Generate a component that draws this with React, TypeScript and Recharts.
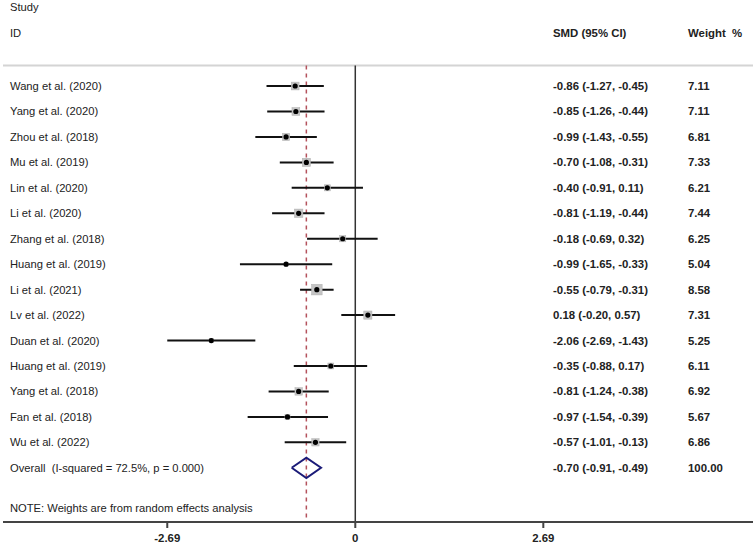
import React from 'react';
import {
  ComposedChart, Scatter, ErrorBar,
  XAxis, YAxis, ReferenceLine
} from 'recharts';

const STUDIES = [
  'Wang et al. (2020)', 'Yang et al. (2020)', 'Zhou et al. (2018)', 'Mu et al. (2019)',
  'Lin et al. (2020)', 'Li et al. (2020)', 'Zhang et al. (2018)', 'Huang et al. (2019)',
  'Li et al. (2021)', 'Lv et al. (2022)', 'Duan et al. (2020)', 'Huang et al. (2019)',
  'Yang et al. (2018)', 'Fan et al. (2018)', 'Wu et al. (2022)'
];
const SMD = [-0.86, -0.85, -0.99, -0.70, -0.40, -0.81, -0.18, -0.99, -0.55, 0.18, -2.06, -0.35, -0.81, -0.97, -0.57];
const CI_LOW = [-1.27, -1.26, -1.43, -1.08, -0.91, -1.19, -0.69, -1.65, -0.79, -0.20, -2.69, -0.88, -1.24, -1.54, -1.01];
const CI_HIGH = [-0.45, -0.44, -0.55, -0.31, 0.11, -0.44, 0.32, -0.33, -0.31, 0.57, -1.43, 0.17, -0.38, -0.39, -0.13];
const WEIGHTS = [7.11, 7.11, 6.81, 7.33, 6.21, 7.44, 6.25, 5.04, 8.58, 7.31, 5.25, 6.11, 6.92, 5.67, 6.86];

const OVERALL_LABEL = 'Overall\u00a0 (I-squared = 72.5%, p = 0.000)';
const OVERALL_CI = [-0.91, -0.70, -0.49]; // low, estimate, high
const OVERALL_WEIGHT = 100;

const X_TICKS = [-2.69, 0, 2.69];
const NOTE = 'NOTE: Weights are from random effects analysis';

// row positions (one unit per study row)
const OVERALL_ROW = STUDIES.length;
const RULE_ROW = -0.81;
const Y_DOMAIN = [-3.38, 17.13];

const FONT = '"Liberation Sans", Arial, sans-serif';
const fmt = (v: number) => v.toFixed(2);

const studyData = STUDIES.map((name, i) => ({
  name,
  x: SMD[i],
  y: i,
  w: WEIGHTS[i],
  err: [SMD[i] - CI_LOW[i], CI_HIGH[i] - SMD[i]]
}));

const diamondData = [
  { x: OVERALL_CI[0], y: OVERALL_ROW },
  { x: OVERALL_CI[1], y: OVERALL_ROW - 0.4 },
  { x: OVERALL_CI[2], y: OVERALL_ROW },
  { x: OVERALL_CI[1], y: OVERALL_ROW + 0.4 },
  { x: OVERALL_CI[0], y: OVERALL_ROW }
];

// text rows: label, estimate column, weight column (x is only an anchor, columns are fixed)
const textRows = [
  { x: 0, y: -3.1, left: 'Study', mid: '', right: '' },
  { x: 0, y: -2.08, left: 'ID', mid: 'SMD (95% CI)', right: 'Weight\u00a0 %' },
  ...STUDIES.map((name, i) => ({
    x: 0,
    y: i,
    left: name,
    mid: `${fmt(SMD[i])} (${fmt(CI_LOW[i])}, ${fmt(CI_HIGH[i])})`,
    right: fmt(WEIGHTS[i])
  })),
  {
    x: 0,
    y: OVERALL_ROW,
    left: OVERALL_LABEL,
    mid: `${fmt(OVERALL_CI[1])} (${fmt(OVERALL_CI[0])}, ${fmt(OVERALL_CI[2])})`,
    right: fmt(OVERALL_WEIGHT)
  },
  { x: 0, y: 16.58, left: NOTE, mid: '', right: '' }
];

const RowText = (props: any) => {
  const { cy, payload } = props;
  const common = { y: cy, fontFamily: FONT, fill: '#222', dominantBaseline: 'central' as const };
  return (
    <g>
      <text x={10} fontSize={11.2} {...common}>{payload.left}</text>
      <text x={553} fontSize={11.4} fontWeight="bold" {...common}>{payload.mid}</text>
      <text x={688} fontSize={11.4} fontWeight="bold" {...common}>{payload.right}</text>
    </g>
  );
};

const BoxShape = (props: any) => {
  const { cx, cy, payload } = props;
  const s = Math.max(3, (payload.w - 3) * 1.9);
  return (
    <rect x={cx - s / 2} y={cy - s / 2} width={s} height={s} fill="#c4c4c4" stroke="#b0b0b0" strokeWidth={0.5} />
  );
};

const DotShape = (props: any) => {
  const { cx, cy } = props;
  return <circle cx={cx} cy={cy} r={2.6} fill="#000" />;
};

export default function App() {
  return (
    <div style={{ width: 756, height: 548, background: '#fff' }}>
      <style>{'body{margin:0}'}</style>
      <ComposedChart width={756} height={548} margin={{ top: 0, right: 3, bottom: 0, left: 3 }}>
        <XAxis
          type="number"
          dataKey="x"
          domain={[-5.04, 5.69]}
          allowDataOverflow
          ticks={X_TICKS}
          tickFormatter={(v: number) => (v === 0 ? '0' : fmt(v))}
          height={26}
          stroke="#444"
          strokeWidth={2}
          tickSize={6}
          tickMargin={6}
          tick={{ fontFamily: FONT, fontSize: 11.4, fontWeight: 'bold', fill: '#222' }}
        />
        <YAxis type="number" dataKey="y" reversed domain={Y_DOMAIN} allowDataOverflow hide />
        <ReferenceLine y={RULE_ROW} stroke="#d4d4d4" strokeWidth={2} />
        <ReferenceLine
          segment={[{ x: 0, y: RULE_ROW }, { x: 0, y: Y_DOMAIN[1] }]}
          stroke="#333"
          strokeWidth={1.5}
        />
        <ReferenceLine
          segment={[{ x: OVERALL_CI[1], y: RULE_ROW }, { x: OVERALL_CI[1], y: Y_DOMAIN[1] }]}
          stroke="#b4525c"
          strokeWidth={1.5}
          strokeDasharray="4 4"
        />
        <Scatter data={textRows} shape={<RowText />} isAnimationActive={false} />
        <Scatter data={studyData} shape={<BoxShape />} isAnimationActive={false} />
        <Scatter data={studyData} shape={<DotShape />} isAnimationActive={false}>
          <ErrorBar dataKey="err" direction="x" width={0} stroke="#111" strokeWidth={2} />
        </Scatter>
        <Scatter
          data={diamondData}
          line={{ stroke: '#1b1b78', strokeWidth: 2 }}
          shape={() => <g />}
          isAnimationActive={false}
        />
      </ComposedChart>
    </div>
  );
}
